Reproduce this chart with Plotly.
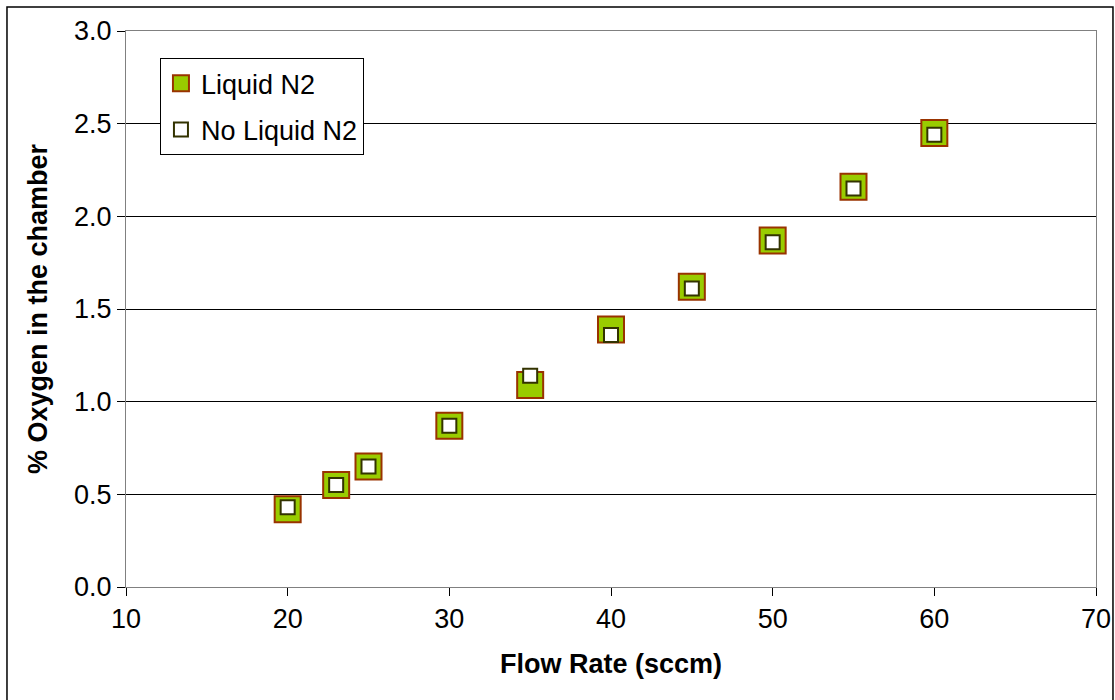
import plotly.graph_objects as go

# Flow rate (sccm) and measured oxygen percentage
flow_rate = [20, 23, 25, 30, 35, 40, 45, 50, 55, 60]
oxygen_liquid_n2 = [0.42, 0.55, 0.65, 0.87, 1.09, 1.39, 1.62, 1.87, 2.16, 2.45]
oxygen_no_liquid_n2 = [0.43, 0.55, 0.65, 0.87, 1.14, 1.36, 1.61, 1.86, 2.15, 2.44]

FONT = "Liberation Sans, Arial, sans-serif"
FS = 27

fig = go.Figure()
fig.add_trace(go.Scatter(
    x=flow_rate, y=oxygen_liquid_n2, mode="markers", name="Liquid N2",
    legendgroup="a",
    marker=dict(symbol="square", size=26, color="#99CC00",
                line=dict(color="#993300", width=2)),
))
fig.add_trace(go.Scatter(
    x=flow_rate, y=oxygen_no_liquid_n2, mode="markers", name="No Liquid N2",
    legendgroup="b",
    marker=dict(symbol="square", size=14, color="#FFFFFF",
                line=dict(color="#333300", width=2)),
))

fig.update_xaxes(
    range=[10, 70], dtick=10, tick0=10, automargin=False,
    showgrid=False, zeroline=False,
    showline=True, linecolor="#808080", linewidth=1, mirror=True,
    ticks="outside", ticklen=8, tickcolor="#000000",
    tickfont=dict(family=FONT, size=FS, color="#000000"),
    title=dict(text="<b>Flow Rate (sccm)</b>", standoff=20,
               font=dict(family=FONT, size=FS, color="#000000")),
)
fig.update_yaxes(
    range=[0, 3.0], dtick=0.5, tickformat=".1f", automargin=False,
    showgrid=True, gridcolor="#000000", gridwidth=1, zeroline=False,
    showline=True, linecolor="#808080", linewidth=1, mirror=True,
    ticks="outside", ticklen=8, tickcolor="#000000",
    tickfont=dict(family=FONT, size=FS, color="#000000"),
    title=dict(text="<b>% Oxygen in the chamber</b>", standoff=18,
               font=dict(family=FONT, size=FS, color="#000000")),
)

fig.update_layout(
    width=1115, height=700,
    margin=dict(l=126, r=19, t=31, b=113),
    paper_bgcolor="#FFFFFF", plot_bgcolor="#FFFFFF",
    font=dict(family=FONT, color="#000000"),
    showlegend=True,
    legend=dict(
        x=0.035, y=0.951, xanchor="left", yanchor="top",
        bgcolor="#FFFFFF", bordercolor="#000000", borderwidth=1,
        font=dict(family=FONT, size=FS, color="#000000"),
        itemsizing="trace", tracegroupgap=8, itemwidth=30,
    ),
    shapes=[dict(
        type="rect", xref="paper", yref="paper",
        x0=-0.1227, x1=1.0175, y0=-0.25, y1=1.0432,
        line=dict(color="#000000", width=1.5), layer="below",
    )],
)

fig.write_html("out.html")
